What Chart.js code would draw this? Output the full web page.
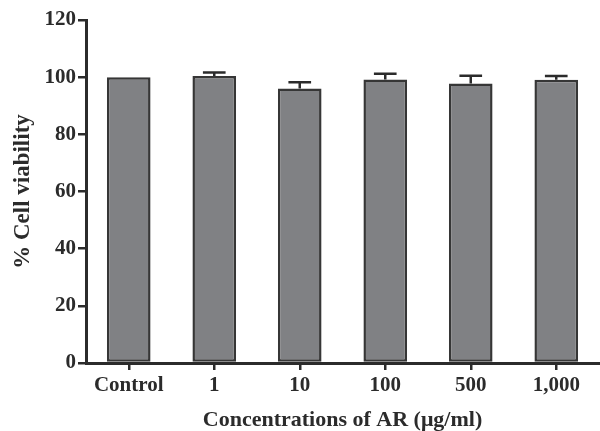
<!DOCTYPE html>
<html>
<head>
<meta charset="utf-8">
<script src="https://cdn.jsdelivr.net/npm/chart.js@4.4.1/dist/chart.umd.min.js"></script>
<style>
html,body{margin:0;padding:0;background:#fff;}
canvas{display:block;}
</style>
</head>
<body>
<canvas id="c" width="600" height="431"></canvas>
<script>
const categories = ['Control', '1', '10', '100', '500', '1,000'];
const viability = [100.0, 100.4, 96.0, 99.2, 97.8, 99.1];
const errors = [0, 1.2, 2.2, 2.0, 2.7, 1.3];
const yTicks = [0, 20, 40, 60, 80, 100, 120];

const ink = '#2b2b2b';
const fontFamily = '"Liberation Serif", "Times New Roman", serif';

const errorBarPlugin = {
  id: 'errorBars',
  afterDatasetsDraw(chart) {
    const ctx = chart.ctx;
    const meta = chart.getDatasetMeta(0);
    const yScale = chart.scales.y;
    ctx.save();
    ctx.strokeStyle = ink;
    ctx.lineWidth = 2.5;
    meta.data.forEach((bar, i) => {
      const err = errors[i];
      if (!err) return;
      const x = bar.x;
      const yTop = yScale.getPixelForValue(viability[i]);
      const yCap = yScale.getPixelForValue(viability[i] + err);
      const half = bar.width * 0.26;
      ctx.beginPath();
      ctx.moveTo(x, yTop);
      ctx.lineTo(x, yCap);
      ctx.moveTo(x - half, yCap);
      ctx.lineTo(x + half, yCap);
      ctx.stroke();
    });
    ctx.restore();
  }
};

new Chart(document.getElementById('c'), {
  type: 'bar',
  data: {
    labels: categories,
    datasets: [{
      data: viability,
      backgroundColor: '#808184',
      borderColor: '#363636',
      borderWidth: 2.5,
      borderSkipped: false,
      categoryPercentage: 1.0,
      barPercentage: 0.51
    }]
  },
  options: {
    responsive: false,
    devicePixelRatio: 1,
    animation: false,
    layout: { padding: { top: 20, right: 1, left: 0, bottom: 0 } },
    plugins: { legend: { display: false }, tooltip: { enabled: false } },
    scales: {
      x: {
        grid: { display: true, drawOnChartArea: false, drawTicks: true, tickLength: 7, color: ink, lineWidth: 2.5, offset: false },
        border: { display: true, color: ink, width: 3 },
        ticks: { color: ink, font: { family: fontFamily, size: 21, weight: 'bold' }, padding: 3, maxRotation: 0, autoSkip: false },
        title: { display: true, text: 'Concentrations of AR (μg/ml)', color: ink, font: { family: fontFamily, size: 22, weight: 'bold', lineHeight: 1.0 }, padding: { top: 0, bottom: 0 } },
        afterFit(scale) { scale.height = 68; }
      },
      y: {
        min: 0,
        max: 120,
        afterBuildTicks(scale) { scale.ticks = yTicks.map(v => ({ value: v })); },
        grid: { display: true, drawOnChartArea: false, drawTicks: true, tickLength: 8, color: ink, lineWidth: 2.5 },
        border: { display: true, color: ink, width: 3 },
        ticks: { color: ink, font: { family: fontFamily, size: 21, weight: 'bold' }, padding: 2 },
        title: { display: true, text: '% Cell viability', color: ink, font: { family: fontFamily, size: 23, weight: 'bold' }, padding: { top: 9, bottom: 0 } },
        afterFit(scale) { scale.width = 86; }
      }
    }
  },
  plugins: [errorBarPlugin]
});
</script>
</body>
</html>
